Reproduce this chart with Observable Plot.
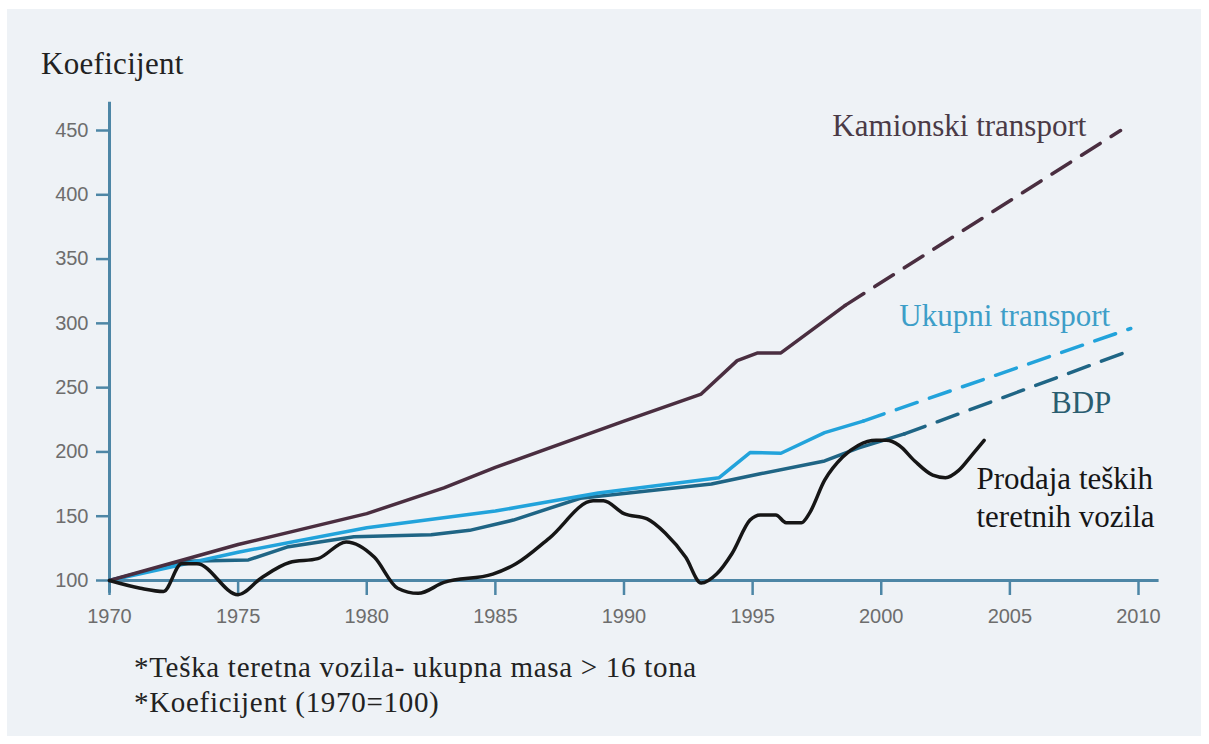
<!DOCTYPE html>
<html>
<head>
<meta charset="utf-8">
<script src="https://cdn.jsdelivr.net/npm/d3@7"></script>
<script src="https://cdn.jsdelivr.net/npm/@observablehq/plot@0.6"></script>
<style>
  html, body { margin: 0; padding: 0; background: #ffffff; }
  #page { position: relative; width: 1209px; height: 744px; overflow: hidden; }
  #panel { position: absolute; left: 7px; top: 9px; width: 1194px; height: 727px; background: #eef2f6; }
  .serif { font-family: "Liberation Serif", "DejaVu Serif", "Times New Roman", Times, serif; font-size: 31px; line-height: 30px; color: #222; position: absolute; white-space: nowrap; }
  .note { font-size: 29px; line-height: 29px; letter-spacing: 0.7px; }
  #chart { position: absolute; left: 0; top: 90px; }
</style>
</head>
<body>
<div id="page">
  <div id="panel"></div>
  <div class="serif" id="title" style="left:41px; top:49px; letter-spacing:0.3px;">Koeficijent</div>
  <div id="chart"></div>
  <div class="serif note" style="left:134px; top:653px;">*Teška teretna vozila- ukupna masa &gt; 16 tona</div>
  <div class="serif note" style="left:134px; top:688px;">*Koeficijent (1970=100)</div>
</div>
<script>
// ---- data (year, index 1970=100) ----
const xTicks = [1970, 1975, 1980, 1985, 1990, 1995, 2000, 2005, 2010];
const yTicks = [100, 150, 200, 250, 300, 350, 400, 450];

const kamionski = [[1970,100],[1975,128],[1980,152],[1983,172],[1985,188],[1990,224],[1993,245],[1994.4,271],[1995.2,277],[1996.1,277],[1998.6,314]];
const kamionskiProjection = [[1998.6,314],[2009.3,450]];

const ukupni = [[1970,100],[1975,122],[1980,141],[1985,154],[1989,168],[1993.7,180],[1994.9,199.5],[1996.1,199],[1997.8,215],[1999.3,224]];
const ukupniProjection = [[1999.3,224],[2009.7,296]];

const bdp = [[1970,100],[1972.9,115],[1975.4,116],[1976.9,126],[1979.5,134],[1982.5,135.5],[1984,139],[1985.7,147],[1988.3,164],[1993.4,175],[1995.3,183],[1997.8,193],[1999.1,203],[2000.9,214]];
const bdpProjection = [[2000.9,214],[2009.7,279]];

const prodaja = [[1970,100],[1971.2,94],[1972.1,91.5],[1972.8,113],[1973.4,113],[1975,89],[1975.9,102],[1977,114],[1978.1,117],[1979.2,130],[1980.3,118],[1981.2,94],[1982,90],[1983,98.5],[1984.9,105],[1985.8,113],[1987.1,133],[1988.8,162],[1989.2,162],[1990,152],[1990.9,148],[1991.6,137],[1992.4,118],[1993,98],[1993.6,105],[1994.2,121],[1994.9,147],[1995.3,151],[1995.9,151],[1996.3,145],[1996.9,145],[1997.2,152],[1997.8,178],[1998.5,196],[1999.1,205],[1999.8,209],[2000.2,209],[2000.7,205],[2001.3,193],[2002,182],[2002.5,180],[2003,185.5],[2003.5,197],[2004,209]];

const seriesNames = ["Kamionski transport", "Ukupni transport", "BDP", "Prodaja teških\nteretnih vozila"];
const seriesColors = ["#4a2e40", "#22a3db", "#1f6585", "#161616"];
const labelColors = ["#4a3a46", "#3d9ec8", "#2a5d70", "#161616"];

// annotation anchors (data coordinates)
const labelX = [1998.1, 2000.7, 2006.6, 2003.7];
const labelY = [446, 298, 230.5, 142];

const axisColor = "#4d86a6";
const tickTextColor = "#6d6d6d";
const sansFont = "'Liberation Sans', Arial, sans-serif";
const serifFont = "'Liberation Serif', 'DejaVu Serif', 'Times New Roman', Times, serif";
const dash = "22,13";

const labels = seriesNames.map((name, i) => ({name, x: labelX[i], y: labelY[i], color: labelColors[i]}));
const px = d => d[0], py = d => d[1];

const chart = Plot.plot({
  width: 1209,
  height: 560,
  marginLeft: 109,
  marginRight: 71,
  marginTop: 40,
  marginBottom: 70,
  style: {background: "transparent", overflow: "visible", fontFamily: sansFont},
  x: {domain: [1970, 2010]},
  y: {domain: [100, 450]},
  marks: [
    // axis lines
    Plot.ruleY([100], {x1: 1970, x2: 2010.8, stroke: axisColor, strokeWidth: 3}),
    Plot.ruleX([1970], {y1: 90, y2: 472, stroke: axisColor, strokeWidth: 3}),
    // ticks
    Plot.axisX(xTicks, {tickSize: 15, color: axisColor, strokeWidth: 2.5, tickFormat: () => "", label: null}),
    Plot.axisY(yTicks, {tickSize: 13, color: axisColor, strokeWidth: 2.5, tickFormat: () => "", label: null}),
    // tick labels
    Plot.axisX(xTicks, {tickSize: 0, tickPadding: 28, color: tickTextColor, fontSize: 20, fontFamily: sansFont, tickFormat: d => String(d), label: null}),
    Plot.axisY(yTicks, {tickSize: 0, tickPadding: 21, color: tickTextColor, fontSize: 20, fontFamily: sansFont, tickFormat: d => String(d), label: null}),
    // series
    Plot.line(bdp, {x: px, y: py, stroke: seriesColors[2], strokeWidth: 3.5, strokeLinejoin: "round", strokeLinecap: "round"}),
    Plot.line(bdpProjection, {x: px, y: py, stroke: seriesColors[2], strokeWidth: 3.5, strokeDasharray: dash}),
    Plot.line(ukupni, {x: px, y: py, stroke: seriesColors[1], strokeWidth: 3.5, strokeLinejoin: "round", strokeLinecap: "round"}),
    Plot.line(ukupniProjection, {x: px, y: py, stroke: seriesColors[1], strokeWidth: 3.5, strokeDasharray: dash}),
    Plot.line(kamionski, {x: px, y: py, stroke: seriesColors[0], strokeWidth: 3.5, strokeLinejoin: "round", strokeLinecap: "round"}),
    Plot.line(kamionskiProjection, {x: px, y: py, stroke: seriesColors[0], strokeWidth: 3.5, strokeDasharray: dash}),
    Plot.line(prodaja, {x: px, y: py, stroke: seriesColors[3], strokeWidth: 3.5, curve: "monotone-x", strokeLinejoin: "round", strokeLinecap: "round"}),
    // labels
    Plot.text(labels, {x: "x", y: "y", text: "name", fill: "color", fontSize: 31, fontFamily: serifFont, textAnchor: "start", lineAnchor: "bottom", lineHeight: 1.22})
  ]
});

document.getElementById("chart").appendChild(chart);
</script>
</body>
</html>
